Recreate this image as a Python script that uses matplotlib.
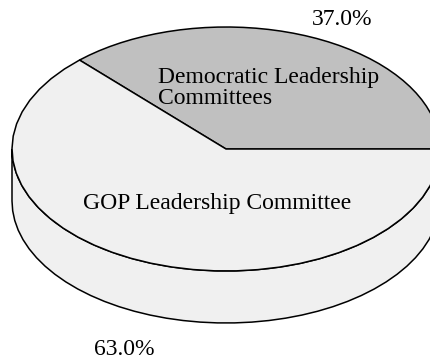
import numpy as np
import matplotlib.pyplot as plt
from matplotlib.patches import Polygon

labels = ['Democratic Leadership\nCommittees', 'GOP Leadership Committee']
shares = [37.0, 63.0]
colors = ['#c0c0c0', '#f0f0f0']

# pie geometry in pixel units (y grows downward)
cx, cy = 226, 149
rx, ry = 214, 122
depth = 52

plt.rcParams['font.family'] = ['Liberation Serif', 'DejaVu Serif']

fig = plt.figure(figsize=(4.31, 3.6), dpi=100)
ax = fig.add_axes([0, 0, 1, 1])
ax.set_xlim(0, 431)
ax.set_ylim(360, 0)
ax.axis('off')


def rim(t0, t1, dy=0, n=40):
    t = np.radians(np.linspace(t0, t1, n))
    return np.column_stack([cx + rx * np.cos(t), cy - ry * np.sin(t) + dy])


# front wall (lower half of the ellipse, belongs to the last slice)
top = rim(180, 360)
bot = rim(360, 180, depth)
ax.add_patch(Polygon(np.vstack([top, bot]), closed=True,
                     facecolor=colors[1], edgecolor='black', lw=1.1, zorder=1))

# top face slices, counter-clockwise from 3 o'clock
bounds = np.concatenate([[0], np.cumsum(shares)]) / sum(shares) * 360
for i, c in enumerate(colors):
    pts = np.vstack([[cx, cy], rim(bounds[i], bounds[i + 1])])
    ax.add_patch(Polygon(pts, closed=True, facecolor=c,
                         edgecolor='black', lw=1.1, zorder=2))

ax.text(158, 104, labels[0], fontsize=17, ha='left', va='baseline',
        linespacing=1.0)
ax.text(217, 209, labels[1], fontsize=17, ha='center', va='baseline')
ax.text(342, 25, f'{shares[0]:.1f}%', fontsize=17, ha='center', va='baseline')
ax.text(124, 355, f'{shares[1]:.1f}%', fontsize=17, ha='center', va='baseline')

fig.savefig('out.png', dpi=100)
